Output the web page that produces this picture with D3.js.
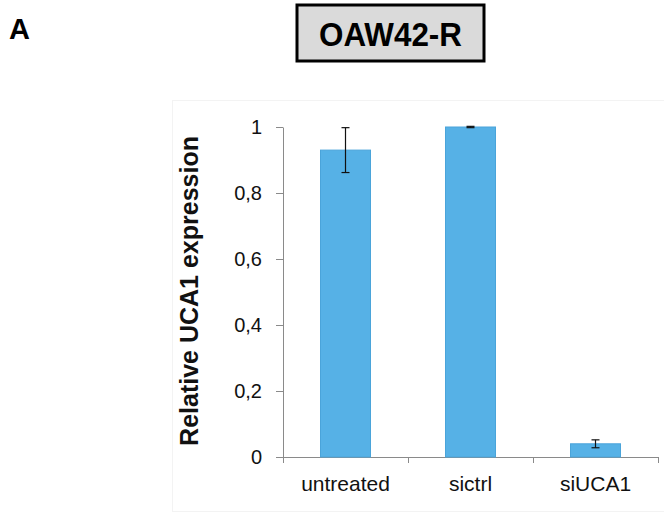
<!DOCTYPE html>
<html>
<head>
<meta charset="utf-8">
<script src="https://cdn.jsdelivr.net/npm/d3@7"></script>
<style>
  body { margin: 0; background: #fff; }
  svg { display: block; font-family: "Liberation Sans", Arial, sans-serif; }
</style>
</head>
<body>
<div class="chart"></div>
<script>
// values
const categories = ['untreated', 'sictrl', 'siUCA1']
const expression = [0.93, 1.0, 0.04]
const errors     = [0.068, 0.002, 0.012]
const yTicks      = [0, 0.2, 0.4, 0.6, 0.8, 1]
const yTickLabels = ['0', '0,2', '0,4', '0,6', '0,8', '1']

const width = 664
const height = 517

const svg = d3.select('.chart').append('svg')
  .attr('width', width)
  .attr('height', height)

// faint frame round the plot area
svg.append('rect')
  .attr('x', 172.5).attr('y', 100.5)
  .attr('width', 520).attr('height', 411)
  .attr('fill', 'none')
  .attr('stroke', '#f3f3f3')

// panel letter
svg.append('text')
  .attr('x', 9).attr('y', 39)
  .attr('font-size', 29)
  .attr('font-weight', 'bold')
  .text('A')

// title box
svg.append('rect')
  .attr('x', 297).attr('y', 5)
  .attr('width', 187).attr('height', 56)
  .attr('fill', '#dadada')
  .attr('stroke', '#000')
  .attr('stroke-width', 3)

svg.append('text')
  .attr('x', 390.5).attr('y', 46)
  .attr('text-anchor', 'middle')
  .attr('font-size', 34)
  .attr('font-weight', 'bold')
  .attr('textLength', 143)
  .attr('lengthAdjust', 'spacingAndGlyphs')
  .text('OAW42-R')

const y = d3.scaleLinear()
  .domain([0, 1])
  .range([457, 127])

const x = d3.scaleBand()
  .domain(categories)
  .range([283, 658])
  .paddingInner(0.6)
  .paddingOuter(0.3)

const axisColor = '#8a8a8a'

// y axis
const yAxis = svg.append('g')
  .attr('transform', 'translate(283,0)')
  .call(d3.axisLeft(y)
    .tickValues(yTicks)
    .tickFormat((d, i) => yTickLabels[i])
    .tickSizeInner(7)
    .tickSizeOuter(0)
    .tickPadding(14))
yAxis.select('.domain').attr('stroke', axisColor)
yAxis.selectAll('.tick line').attr('stroke', axisColor)
yAxis.selectAll('.tick text')
  .attr('font-size', 20)
  .attr('fill', '#111')
  .attr('font-family', '"Liberation Sans", Arial, sans-serif')

// x axis: baseline with ticks between categories
const x0 = x.range()[0]
const bounds = d3.range(categories.length + 1).map(i => x0 + i * x.step())
svg.append('line')
  .attr('x1', x.range()[0]).attr('x2', x.range()[1])
  .attr('y1', y(0) + 0.5).attr('y2', y(0) + 0.5)
  .attr('stroke', axisColor)
svg.selectAll('.xtick')
  .data(bounds)
  .join('line')
  .attr('class', 'xtick')
  .attr('x1', d => d + 0.5).attr('x2', d => d + 0.5)
  .attr('y1', y(0)).attr('y2', y(0) + 6)
  .attr('stroke', axisColor)

svg.selectAll('.xlabel')
  .data(categories)
  .join('text')
  .attr('class', 'xlabel')
  .attr('x', d => x(d) + x.bandwidth() / 2)
  .attr('y', 491)
  .attr('text-anchor', 'middle')
  .attr('font-size', 21)
  .attr('fill', '#111')
  .text(d => d)

// bars
svg.selectAll('.bar')
  .data(categories)
  .join('rect')
  .attr('class', 'bar')
  .attr('x', d => x(d))
  .attr('width', x.bandwidth())
  .attr('y', (d, i) => y(expression[i]))
  .attr('height', (d, i) => y(0) - y(expression[i]))
  .attr('fill', '#56b1e6')
  .attr('stroke', '#4aa4da')
  .attr('stroke-width', 1)

// error bars
const err = svg.append('g')
  .attr('stroke', '#111')
  .attr('stroke-width', 1.2)
categories.forEach((c, i) => {
  const cx = x(c) + x.bandwidth() / 2
  const top = y(expression[i] + errors[i])
  const bot = y(expression[i] - errors[i])
  err.append('line').attr('x1', cx).attr('x2', cx).attr('y1', top).attr('y2', bot)
  err.append('line').attr('x1', cx - 4).attr('x2', cx + 4).attr('y1', top).attr('y2', top)
  err.append('line').attr('x1', cx - 4).attr('x2', cx + 4).attr('y1', bot).attr('y2', bot)
})

// axis title
svg.append('text')
  .attr('transform', 'translate(198,291) rotate(-90)')
  .attr('text-anchor', 'middle')
  .attr('font-size', 25)
  .attr('font-weight', 'bold')
  .attr('fill', '#111')
  .text('Relative UCA1 expression')
</script>
</body>
</html>
